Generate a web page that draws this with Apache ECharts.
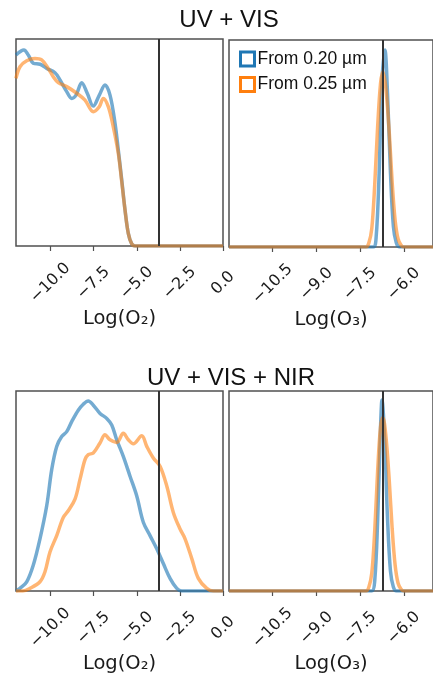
<!DOCTYPE html>
<html>
<head>
<meta charset="utf-8">
<script src="https://cdn.jsdelivr.net/npm/echarts@6/dist/echarts.min.js"></script>
<style>
html,body{margin:0;padding:0;background:#fff;}
#chart{width:433px;height:675px;}
</style>
</head>
<body>
<div id="chart"></div>
<script>
// ---- data ----
const panelTitles = ['UV + VIS', 'UV + VIS + NIR'];
const seriesNames = ['From 0.20 µm', 'From 0.25 µm'];
const o2Ticks = [-10, -7.5, -5, -2.5, 0];
const o3Ticks = [-10.5, -9, -7.5, -6];
const trueLogO2 = -3.72;
const trueLogO3 = -6.74;

// UV+VIS, Log(O2)
const uvVisO2From020 = [[-12,0.923],[-11.54,0.947],[-11.29,0.923],[-11.0,0.883],[-10.6,0.878],[-10.22,0.858],[-9.74,0.837],[-9.45,0.802],[-9.06,0.746],[-8.77,0.713],[-8.52,0.729],[-8.19,0.789],[-7.87,0.738],[-7.52,0.676],[-7.17,0.729],[-6.84,0.778],[-6.55,0.729],[-6.26,0.593],[-6.07,0.464],[-5.87,0.319],[-5.68,0.174],[-5.49,0.061],[-5.29,0.01],[-5.1,0],[-4.0,0],[0,0]];
const uvVisO2From025 = [[-12,0.81],[-11.77,0.866],[-11.38,0.895],[-10.9,0.906],[-10.51,0.899],[-10.13,0.858],[-9.84,0.818],[-9.55,0.789],[-9.06,0.77],[-8.48,0.738],[-8.0,0.705],[-7.52,0.649],[-7.17,0.673],[-6.94,0.713],[-6.65,0.673],[-6.36,0.576],[-6.07,0.448],[-5.87,0.31],[-5.68,0.174],[-5.49,0.061],[-5.29,0.01],[-5.1,0],[-4.0,0],[0,0]];
// UV+VIS, Log(O3)
const uvVisO3From020 = [[-12,0],[-7.5,0],[-7.05,0],[-6.95,0.05],[-6.85,0.35],[-6.75,0.8],[-6.65,0.952],[-6.56,0.74],[-6.46,0.36],[-6.36,0.1],[-6.26,0.02],[-6.15,0],[-5,0]];
const uvVisO3From025 = [[-12,0],[-7.6,0],[-7.3,0],[-7.2,0.02],[-7.1,0.09],[-7.0,0.3],[-6.9,0.58],[-6.8,0.79],[-6.72,0.847],[-6.62,0.77],[-6.5,0.55],[-6.4,0.31],[-6.3,0.13],[-6.2,0.04],[-6.1,0.01],[-6.0,0],[-5,0]];
// UV+VIS+NIR, Log(O2)
const nirO2From020 = [[-12,0],[-11.77,0.013],[-11.38,0.046],[-11.0,0.129],[-10.61,0.261],[-10.22,0.426],[-9.93,0.607],[-9.64,0.723],[-9.35,0.772],[-9.06,0.797],[-8.77,0.847],[-8.39,0.904],[-8.1,0.934],[-7.81,0.95],[-7.52,0.929],[-7.13,0.888],[-6.74,0.863],[-6.45,0.83],[-6.16,0.756],[-5.78,0.673],[-5.39,0.574],[-5.0,0.475],[-4.62,0.344],[-4.23,0.277],[-3.84,0.211],[-3.46,0.137],[-3.07,0.063],[-2.68,0.013],[-2.39,0],[0,0]];
const nirO2From025 = [[-12,0],[-11.6,0],[-11.19,0.013],[-10.61,0.046],[-10.32,0.096],[-10.03,0.195],[-9.64,0.277],[-9.26,0.368],[-8.97,0.401],[-8.58,0.459],[-8.29,0.558],[-8.0,0.657],[-7.81,0.682],[-7.52,0.69],[-7.13,0.74],[-6.84,0.781],[-6.55,0.756],[-6.16,0.743],[-5.78,0.789],[-5.49,0.756],[-5.2,0.736],[-4.71,0.776],[-4.42,0.723],[-4.04,0.665],[-3.65,0.624],[-3.26,0.525],[-2.88,0.393],[-2.49,0.31],[-2.2,0.261],[-1.81,0.162],[-1.43,0.063],[-0.94,0.013],[-0.56,0],[0,0]];
// UV+VIS+NIR, Log(O3)
const nirO3From020 = [[-12,0],[-7.5,0],[-7.1,0],[-7.0,0.05],[-6.9,0.35],[-6.8,0.82],[-6.75,0.955],[-6.66,0.76],[-6.56,0.36],[-6.46,0.1],[-6.36,0.02],[-6.25,0],[-5,0]];
const nirO3From025 = [[-12,0],[-7.6,0],[-7.3,0],[-7.2,0.02],[-7.1,0.09],[-7.0,0.3],[-6.9,0.6],[-6.8,0.82],[-6.72,0.867],[-6.62,0.78],[-6.5,0.55],[-6.4,0.31],[-6.3,0.13],[-6.2,0.04],[-6.1,0.01],[-6.0,0],[-5,0]];

// ---- chart ----
const BLUE = '#1f77b4', ORANGE = '#ff7f0e';
const chart = echarts.init(document.getElementById('chart'), null, {renderer: 'canvas'});

const grids = [
  {left: 16, top: 39, width: 207, height: 207},
  {left: 229, top: 40, width: 208, height: 207},
  {left: 16, top: 391, width: 207, height: 203},
  {left: 229, top: 391, width: 208, height: 203}
].map(g => Object.assign({show: true, borderColor: '#505050', borderWidth: 1.5, backgroundColor: '#fff', containLabel: false}, g));

function fmt(v) {
  const s = Number(v).toFixed(1);
  return s.replace('-', '\u2212');
}
function xAxisFor(i, isO2) {
  const ticks = isO2 ? o2Ticks : o3Ticks;
  return {
    type: 'value', gridIndex: i,
    min: -12, max: isO2 ? 0 : -5,
    name: isO2 ? 'Log(O\u2082)' : 'Log(O\u2083)',
    nameLocation: 'middle', nameGap: 62,
    nameTextStyle: {fontFamily: 'DejaVu Sans', fontSize: 19.5, color: '#1a1a1a', verticalAlign: 'top'},
    axisLine: {show: false},
    splitLine: {show: false},
    axisTick: {show: true, length: 5, inside: false, lineStyle: {color: '#505050', width: 1.2}, customValues: ticks},
    axisLabel: {show: true, rotate: 45, align: 'center', verticalAlign: 'middle', margin: 37,
      fontFamily: 'DejaVu Sans', fontSize: 16, color: '#1a1a1a', customValues: ticks, formatter: fmt}
  };
}
function yAxisFor(i) {
  return {type: 'value', gridIndex: i, min: 0, max: 1, show: true,
    axisLine: {show: false}, axisTick: {show: false}, axisLabel: {show: false}, splitLine: {show: false}};
}
function line(name, data, color, idx, opacity, mark) {
  const s = {
    type: 'line', name: name, data: data, xAxisIndex: idx, yAxisIndex: idx,
    showSymbol: false, symbol: 'none', smooth: 0.35, clip: true,
    lineStyle: {color: color, width: 3.5, opacity: opacity},
    itemStyle: {color: color},
    emphasis: {disabled: true}, silent: true, z: 3
  };
  if (mark !== undefined) {
    s.markLine = {silent: true, symbol: 'none', label: {show: false},
      lineStyle: {color: '#333', width: 2, type: 'solid', opacity: 1},
      data: [{xAxis: mark}], z: 5};
  }
  return s;
}

const option = {
  animation: false,
  backgroundColor: '#fff',
  title: [
    {text: panelTitles[0], left: 224, top: 3, textAlign: 'center',
      textStyle: {fontFamily: 'Liberation Sans', fontSize: 24, fontWeight: 'normal', color: '#111'}},
    {text: panelTitles[1], left: 226, top: 361, textAlign: 'center',
      textStyle: {fontFamily: 'Liberation Sans', fontSize: 24, fontWeight: 'normal', color: '#111'}}
  ],
  legend: {
    left: 234, top: 45, orient: 'vertical', icon: 'rect',
    itemWidth: 14, itemHeight: 14, itemGap: 7.5,
    textStyle: {fontFamily: 'Liberation Sans', fontSize: 17.5, color: '#111', padding: [0, 0, 0, -2]},
    data: [
      {name: seriesNames[0], itemStyle: {color: '#fff', borderColor: BLUE, borderWidth: 3}},
      {name: seriesNames[1], itemStyle: {color: '#fff', borderColor: ORANGE, borderWidth: 3}}
    ],
    selectedMode: false
  },
  grid: grids,
  xAxis: [xAxisFor(0, true), xAxisFor(1, false), xAxisFor(2, true), xAxisFor(3, false)],
  yAxis: [yAxisFor(0), yAxisFor(1), yAxisFor(2), yAxisFor(3)],
  series: [
    line(seriesNames[0], uvVisO2From020, BLUE, 0, 0.62, trueLogO2),
    line(seriesNames[1], uvVisO2From025, ORANGE, 0, 0.58),
    line(seriesNames[0], uvVisO3From020, BLUE, 1, 0.62, trueLogO3),
    line(seriesNames[1], uvVisO3From025, ORANGE, 1, 0.58),
    line(seriesNames[0], nirO2From020, BLUE, 2, 0.62, trueLogO2),
    line(seriesNames[1], nirO2From025, ORANGE, 2, 0.58),
    line(seriesNames[0], nirO3From020, BLUE, 3, 0.62, trueLogO3),
    line(seriesNames[1], nirO3From025, ORANGE, 3, 0.58)
  ]
};
chart.setOption(option);
</script>
</body>
</html>
